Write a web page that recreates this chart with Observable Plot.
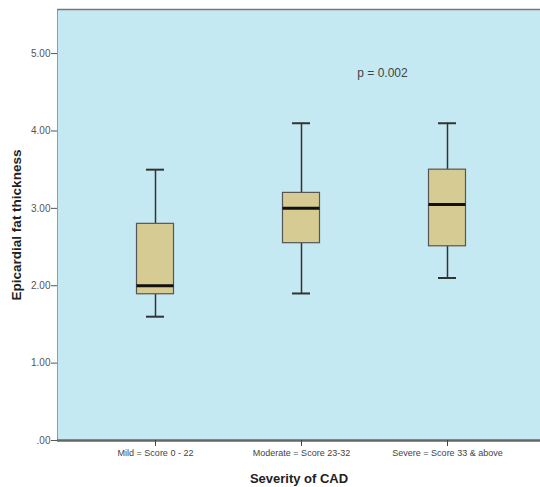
<!DOCTYPE html>
<html>
<head>
<meta charset="utf-8">
<script src="https://cdn.jsdelivr.net/npm/d3@7"></script>
<script src="https://cdn.jsdelivr.net/npm/@observablehq/plot@0.6"></script>
<style>
  html, body { margin: 0; padding: 0; background: white; }
</style>
</head>
<body>
<div id="chart"></div>
<script>
const categories = ["Mild = Score 0 - 22", "Moderate = Score 23-32", "Severe = Score 33 & above"];
const minVals = [1.6, 1.9, 2.1];
const q1Vals = [1.89, 2.55, 2.51];
const medianVals = [2.0, 3.0, 3.05];
const q3Vals = [2.8, 3.2, 3.5];
const maxVals = [3.5, 4.1, 4.1];
const yTicks = [0, 1, 2, 3, 4, 5];
const xTitle = "Severity of CAD";
const yTitle = "Epicardial fat thickness";
const pLabel = "p = 0.002";
const pCategory = categories[2];
const pValueY = 4.75;
const yMax = 5.57;

const rows = categories.map((c, i) => ({
  cat: c, min: minVals[i], q1: q1Vals[i], median: medianVals[i], q3: q3Vals[i], max: maxVals[i]
}));

const fmt = d => d === 0 ? ".00" : d.toFixed(2);

const chart = Plot.plot({
  width: 540,
  height: 487,
  marginLeft: 57,
  marginRight: 0,
  marginTop: 9,
  marginBottom: 47,
  style: { fontFamily: "'Liberation Sans', Arial, sans-serif", fontSize: "10px", background: "white", color: "#555" },
  x: { domain: categories, range: [82, 520], padding: 0, label: null },
  y: { domain: [0, yMax], ticks: yTicks, tickFormat: fmt, tickSize: 6, tickPadding: 1, line: true, label: null },
  marks: [
    Plot.frame({ fill: "#c5e9f2", stroke: null }),
    Plot.ruleY([0], { stroke: "#666", strokeWidth: 2.5 }),
    Plot.ruleY([yMax], { stroke: "#777", strokeWidth: 1.5 }),
    Plot.ruleX(rows, { x: "cat", y1: "q3", y2: "max", stroke: "#333", strokeWidth: 1.5 }),
    Plot.ruleX(rows, { x: "cat", y1: "min", y2: "q1", stroke: "#333", strokeWidth: 1.5 }),
    Plot.tickY(rows, { x: "cat", y: "max", stroke: "#333", strokeWidth: 2, insetLeft: 64, insetRight: 64 }),
    Plot.tickY(rows, { x: "cat", y: "min", stroke: "#333", strokeWidth: 2, insetLeft: 64, insetRight: 64 }),
    Plot.barY(rows, { x: "cat", y1: "q1", y2: "q3", fill: "#d6cb92", stroke: "#555", strokeWidth: 1.2, insetLeft: 54.5, insetRight: 54.5 }),
    Plot.tickY(rows, { x: "cat", y: "median", stroke: "#111", strokeWidth: 3, insetLeft: 54.5, insetRight: 54.5 }),
    Plot.axisX({ tickSize: 6, tickPadding: 3, fontSize: 9, label: null, stroke: "#444", fill: "#444" }),
    Plot.text([pLabel], { x: [pCategory], y: [pValueY], dx: -65, fontSize: 12, fill: "#444" }),
    Plot.text([xTitle], { frameAnchor: "bottom", dy: 38, lineAnchor: "middle", textAnchor: "middle", fontSize: 13, fontWeight: "bold", fill: "#222" }),
    Plot.text([yTitle], { frameAnchor: "left", dx: -41, rotate: -90, textAnchor: "middle", lineAnchor: "middle", fontSize: 13.5, fontWeight: "bold", fill: "#222" })
  ]
});
document.getElementById("chart").appendChild(chart);
</script>
</body>
</html>
